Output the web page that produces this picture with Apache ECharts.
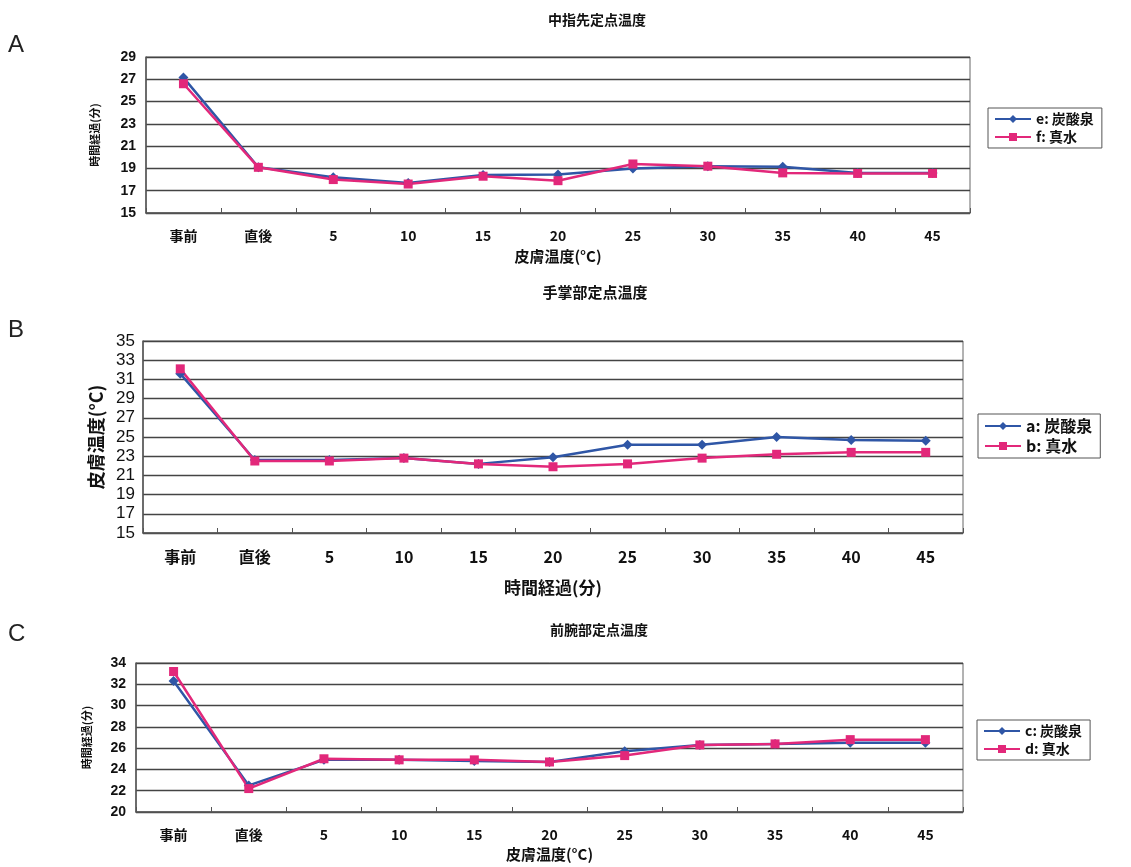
<!DOCTYPE html>
<html>
<head>
<meta charset="utf-8">
<script src="https://cdn.jsdelivr.net/npm/echarts@6/dist/echarts.min.js"></script>
<style>
  html, body { margin: 0; padding: 0; background: #fff; }
  #main { width: 1131px; height: 867px; }
</style>
</head>
<body>
<div id="main"></div>
<script>
// categories shared by all three panels
var categories = ['事前', '直後', '5', '10', '15', '20', '25', '30', '35', '40', '45'];

// A: 中指先
var fingerCarbonic = [27.15, 19.1, 18.2, 17.7, 18.4, 18.45, 19.0, 19.2, 19.15, 18.6, 18.6];
var fingerWater    = [26.6, 19.1, 18.0, 17.6, 18.3, 17.9, 19.4, 19.2, 18.6, 18.55, 18.55];

// B: 手掌部
var palmCarbonic = [31.6, 22.6, 22.6, 22.8, 22.2, 22.9, 24.2, 24.2, 25.0, 24.7, 24.6];
var palmWater    = [32.1, 22.5, 22.5, 22.8, 22.2, 21.9, 22.2, 22.8, 23.2, 23.4, 23.4];

// C: 前腕部
var armCarbonic = [32.3, 22.5, 24.9, 24.9, 24.8, 24.7, 25.7, 26.3, 26.4, 26.5, 26.5];
var armWater    = [33.2, 22.2, 25.0, 24.9, 24.9, 24.7, 25.3, 26.3, 26.4, 26.8, 26.8];

var BLUE = '#2f56a6';
var PINK = '#e2287a';
var boldFont = '"Noto Sans CJK JP", sans-serif';

var chart = echarts.init(document.getElementById('main'));

function xAxisFor(idx, name, gap, size, nameSize) {
  return {
    type: 'category', gridIndex: idx, data: categories, boundaryGap: true,
    name: name, nameLocation: 'middle', nameGap: gap,
    nameTextStyle: { color: '#111', fontSize: nameSize, fontWeight: 'bold', fontFamily: boldFont },
    axisLine: { lineStyle: { color: '#555', width: 1.5 } },
    axisTick: { show: true, inside: true, length: 5, lineStyle: { color: '#555' } },
    axisLabel: { color: '#111', fontSize: size, fontWeight: 'bold', fontFamily: boldFont, margin: 16 },
    splitLine: { show: false }
  };
}

function yAxisFor(idx, min, max, name, gap, nameSize, labelStyle) {
  return {
    type: 'value', gridIndex: idx, min: min, max: max, interval: 2,
    name: name, nameLocation: 'middle', nameGap: gap, nameRotate: 90,
    nameTextStyle: { color: '#111', fontSize: nameSize, fontWeight: 'bold', fontFamily: boldFont },
    axisLine: { show: true, lineStyle: { color: '#555', width: 1.5 } },
    axisTick: { show: false },
    axisLabel: labelStyle,
    splitLine: { show: true, lineStyle: { color: '#444', width: 1.3 } }
  };
}

function seriesFor(name, idx, data, color, symbol) {
  return {
    name: name, type: 'line', xAxisIndex: idx, yAxisIndex: idx, data: data,
    symbol: symbol, symbolSize: symbol === 'diamond' ? 10 : 9,
    lineStyle: { color: color, width: 2.5 },
    itemStyle: { color: color },
    emphasis: { disabled: true }, animation: false
  };
}

function legendFor(names, left, top, size) {
  return {
    data: names, orient: 'vertical', left: left, top: top,
    borderColor: '#555', borderWidth: 1, borderRadius: 0,
    padding: [4, 8, 4, 6], itemGap: 4, itemWidth: 36, itemHeight: 10,
    textStyle: { color: '#111', fontSize: size, fontWeight: 'bold', fontFamily: boldFont }
  };
}

var boldLabel = { color: '#111', fontSize: 14, fontWeight: 'bold', fontFamily: 'Liberation Sans, Arial, sans-serif', margin: 10 };
var narrowLabel = { color: '#111', fontSize: 17, fontFamily: '"Liberation Sans Narrow", "Arial Narrow", sans-serif', margin: 8 };

var titleStyle = { color: '#111', fontSize: 14, fontWeight: 'bold', fontFamily: boldFont };

chart.setOption({
  backgroundColor: '#fff',
  title: [
    { text: '中指先定点温度', left: 592, top: 8, textAlign: 'center', textStyle: titleStyle },
    { text: '手掌部定点温度', left: 590, top: 280, textAlign: 'center', textStyle: { color: '#111', fontSize: 15, fontWeight: 'bold', fontFamily: boldFont } },
    { text: '前腕部定点温度', left: 594, top: 618, textAlign: 'center', textStyle: titleStyle }
  ],
  legend: [
    legendFor(['e: 炭酸泉', 'f: 真水'], 988, 108, 14),
    legendFor(['a: 炭酸泉', 'b: 真水'], 978, 414, 16),
    legendFor(['c: 炭酸泉', 'd: 真水'], 977, 720, 14)
  ],
  grid: [
    { left: 146, right: 161, top: 57, height: 156, show: true, backgroundColor: '#fff', borderColor: '#666', borderWidth: 1 },
    { left: 143, right: 168, top: 341, height: 192, show: true, backgroundColor: '#fff', borderColor: '#666', borderWidth: 1 },
    { left: 136, right: 168, top: 663, height: 149, show: true, backgroundColor: '#fff', borderColor: '#666', borderWidth: 1 }
  ],
  xAxis: [
    xAxisFor(0, '皮膚温度(°C)', 36, 14, 15),
    xAxisFor(1, '時間経過(分)', 46, 16, 17),
    xAxisFor(2, '皮膚温度(°C)', 35, 14, 15)
  ],
  yAxis: [
    yAxisFor(0, 15, 29, '時間経過(分)', 46, 11, boldLabel),
    yAxisFor(1, 15, 35, '皮膚温度(°C)', 38, 18, narrowLabel),
    yAxisFor(2, 20, 34, '時間経過(分)', 44, 11, boldLabel)
  ],
  series: [
    seriesFor('e: 炭酸泉', 0, fingerCarbonic, BLUE, 'diamond'),
    seriesFor('f: 真水', 0, fingerWater, PINK, 'rect'),
    seriesFor('a: 炭酸泉', 1, palmCarbonic, BLUE, 'diamond'),
    seriesFor('b: 真水', 1, palmWater, PINK, 'rect'),
    seriesFor('c: 炭酸泉', 2, armCarbonic, BLUE, 'diamond'),
    seriesFor('d: 真水', 2, armWater, PINK, 'rect')
  ],
  graphic: [
    { type: 'text', left: 8, top: 33, style: { text: 'A', fontSize: 24, fill: '#222', fontFamily: 'Liberation Sans, Arial, sans-serif' } },
    { type: 'text', left: 8, top: 318, style: { text: 'B', fontSize: 24, fill: '#222', fontFamily: 'Liberation Sans, Arial, sans-serif' } },
    { type: 'text', left: 8, top: 622, style: { text: 'C', fontSize: 24, fill: '#222', fontFamily: 'Liberation Sans, Arial, sans-serif' } }
  ]
});
</script>
</body>
</html>
